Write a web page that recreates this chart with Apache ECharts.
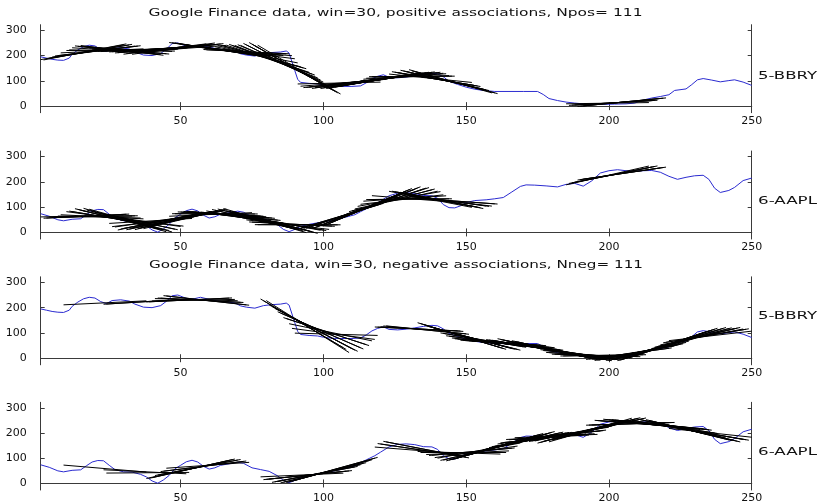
<!DOCTYPE html>
<html>
<head>
<meta charset="utf-8">
<script src="https://cdn.jsdelivr.net/npm/echarts@6/dist/echarts.min.js"></script>
<style>
  html, body { margin: 0; padding: 0; background: #fff; }
  #chart { width: 822px; height: 504px; }
</style>
</head>
<body>
<div id="chart"></div>
<script>
// tick positions
var xTicks = [50, 100, 150, 200, 250];
var yTicks = [0, 100, 200, 300];

// 5-BBRY closing prices
var bbryX = [1, 3, 5, 7, 9, 11, 12, 14, 16, 18, 20, 22, 24, 26, 29, 32, 34, 37, 40, 43, 45, 47, 49, 51, 53, 55, 57, 60, 63, 66, 69, 71, 73, 76, 79, 82, 85, 87, 88, 89, 90, 91, 92, 95, 98, 100, 103, 106, 110, 113, 115, 117, 119, 121, 123, 126, 129, 132, 135, 138, 140, 142, 144, 147, 150, 153, 156, 160, 165, 170, 175, 177, 179, 182, 185, 188, 191, 194, 198, 202, 206, 209, 212, 215, 218, 221, 223, 227, 229, 231, 233, 236, 239, 242, 244, 247, 250];
var bbryY = [195, 190, 185, 182, 181, 190, 205, 222, 235, 241, 238, 224, 216, 228, 231, 226, 214, 202, 200, 208, 225, 247, 250, 241, 233, 236, 241, 233, 226, 222, 219, 207, 202, 198, 208, 212, 214, 218, 210, 175, 140, 106, 94, 90, 88, 83, 79, 78, 78, 80, 92, 108, 118, 124, 114, 112, 115, 120, 126, 130, 128, 116, 98, 86, 75, 67, 62, 58, 58, 58, 58, 46, 30, 22, 16, 12, 9, 6, 7, 8, 9, 12, 24, 32, 38, 45, 62, 68, 85, 104, 109, 103, 96, 101, 104, 95, 82];

// 6-AAPL closing prices
var aaplX = [1, 4, 7, 9, 12, 15, 17, 19, 21, 23, 25, 27, 30, 33, 36, 38, 40, 42, 44, 46, 48, 50, 52, 54, 56, 58, 60, 62, 64, 67, 70, 72, 75, 78, 81, 84, 86, 88, 90, 92, 95, 99, 103, 107, 111, 113, 116, 118, 120, 123, 126, 129, 132, 135, 138, 140, 142, 144, 146, 148, 150, 153, 157, 160, 163, 166, 169, 171, 174, 178, 182, 185, 188, 191, 194, 197, 200, 203, 206, 209, 212, 215, 218, 221, 224, 227, 230, 233, 235, 237, 239, 242, 244, 247, 250];
var aaplY = [74, 64, 50, 46, 52, 54, 70, 85, 91, 90, 72, 55, 46, 45, 36, 26, 10, 1, 14, 32, 58, 72, 86, 92, 85, 68, 57, 62, 72, 78, 84, 80, 62, 55, 48, 30, 12, 3, 12, 24, 32, 40, 48, 58, 70, 82, 99, 110, 124, 145, 155, 157, 154, 146, 145, 135, 110, 98, 97, 105, 118, 126, 129, 133, 138, 160, 182, 188, 187, 184, 180, 190, 194, 183, 204, 235, 244, 248, 244, 242, 244, 245, 238, 222, 210, 218, 224, 226, 210, 175, 158, 166, 178, 205, 215];

// window starts (win=30) of positive / negative associations
var win = 30;
var posRanges = [[1, 8], [10, 22], [25, 37], [46, 77], [91, 117], [123, 132], [185, 191]];
var negRanges = [[9, 9], [23, 24], [38, 45], [78, 90], [118, 122], [133, 184], [192, 221]];

var titleTexts = ['Google Finance data, win=30, positive associations, Npos= 111',
                  'Google Finance data, win=30, negative associations, Nneg= 111'];
var seriesNames = ['5-BBRY', '6-AAPL', '5-BBRY', '6-AAPL'];

var AXIS_COLOR = '#3a3a3a';
var BLUE = '#2b2bd0';
var FONT = '"DejaVu Sans", sans-serif';

var gridTops = [24.7, 151, 276.8, 402.3];
var nameY = [76, 201, 316, 451.7];

// least squares line for each window
function fitSegments(xs, ys, ranges) {
	var segs = [];
	for (var r = 0; r < ranges.length; r++) {
		for (var s = ranges[r][0]; s <= ranges[r][1]; s++) {
			var n = 0, sx = 0, sy = 0, sxx = 0, sxy = 0;
			for (var k = 0; k < xs.length; k++) {
				if (xs[k] >= s && xs[k] <= s + win - 1) {
					n++; sx += xs[k]; sy += ys[k];
					sxx += xs[k] * xs[k]; sxy += xs[k] * ys[k];
				}
			}
			if (n < 2) continue;
			var b = (n * sxy - sx * sy) / (n * sxx - sx * sx);
			var a = (sy - b * sx) / n;
			var e = s + win - 1;
			segs.push({coords: [[s, a + b * s], [e, a + b * e]]});
		}
	}
	return segs;
}

function zip(xs, ys) {
	var out = [];
	for (var i = 0; i < xs.length; i++) out.push([xs[i], ys[i]]);
	return out;
}

function textW(t, font) {
	var c = document.createElement('canvas').getContext('2d');
	c.font = font;
	return c.measureText(t).width;
}

var panels = [
	{xs: bbryX, ys: bbryY, ranges: posRanges},
	{xs: aaplX, ys: aaplY, ranges: posRanges},
	{xs: bbryX, ys: bbryY, ranges: negRanges},
	{xs: aaplX, ys: aaplY, ranges: negRanges}
];

var grids = [], xAxes = [], yAxes = [], series = [];
for (var i = 0; i < 4; i++) {
	grids.push({left: 40.7, right: 70.3, top: gridTops[i], height: 88});
	xAxes.push({
		gridIndex: i, type: 'value', min: 1, max: 250, position: 'bottom',
		axisLine: {lineStyle: {color: AXIS_COLOR, width: 1}},
		axisTick: {inside: true, length: 4, customValues: xTicks, lineStyle: {color: AXIS_COLOR}},
		axisLabel: {customValues: xTicks, color: '#111', fontSize: 11, fontFamily: FONT, margin: 3},
		splitLine: {show: false}
	});
	xAxes.push({
		gridIndex: i, type: 'value', min: 1, max: 250, position: 'top',
		axisLine: {lineStyle: {color: AXIS_COLOR, width: 1}},
		axisTick: {inside: true, length: 4, customValues: xTicks, lineStyle: {color: AXIS_COLOR}},
		axisLabel: {show: false},
		splitLine: {show: false}
	});
	yAxes.push({
		gridIndex: i, type: 'value', min: -26, max: 322, position: 'left',
		axisLine: {show: true, lineStyle: {color: AXIS_COLOR, width: 1}},
		axisTick: {show: true, inside: true, length: 4, customValues: yTicks, lineStyle: {color: AXIS_COLOR}},
		axisLabel: {customValues: yTicks, color: '#111', fontSize: 11, fontFamily: FONT, margin: 14},
		splitLine: {show: false}
	});
	yAxes.push({
		gridIndex: i, type: 'value', min: -26, max: 322, position: 'right',
		axisLine: {show: true, lineStyle: {color: AXIS_COLOR, width: 1}},
		axisTick: {show: true, inside: true, length: 4, customValues: yTicks, lineStyle: {color: AXIS_COLOR}},
		axisLabel: {show: false},
		splitLine: {show: false}
	});
	var p = panels[i];
	series.push({
		type: 'line', xAxisIndex: 2 * i, yAxisIndex: 2 * i,
		data: zip(p.xs, p.ys), showSymbol: false, symbol: 'none', silent: true,
		lineStyle: {color: BLUE, width: 1}, z: 2
	});
	series.push({
		type: 'lines', coordinateSystem: 'cartesian2d', xAxisIndex: 2 * i, yAxisIndex: 2 * i,
		data: fitSegments(p.xs, p.ys, p.ranges), silent: true,
		lineStyle: {color: '#000', width: 1, opacity: 1}, z: 3
	});
}

// titles and right side labels, stretched like the original
var titleFont = '11px ' + FONT;
var graphics = [];
var titlePos = [[395.5, 13.5], [396, 265.5]];
for (var t = 0; t < 2; t++) {
	graphics.push({
		type: 'text', x: titlePos[t][0], y: titlePos[t][1],
		scaleX: 494 / textW(titleTexts[t], titleFont),
		style: {text: titleTexts[t], font: titleFont, fill: '#111',
			align: 'center', textAlign: 'center', verticalAlign: 'middle', textVerticalAlign: 'middle'}
	});
}
for (var j = 0; j < 4; j++) {
	graphics.push({
		type: 'text', x: 758, y: nameY[j],
		scaleX: 59 / textW(seriesNames[j], titleFont),
		style: {text: seriesNames[j], font: titleFont, fill: '#111',
			align: 'left', textAlign: 'left', verticalAlign: 'middle', textVerticalAlign: 'middle'}
	});
}

var myChart = echarts.init(document.getElementById('chart'));
myChart.setOption({
	animation: false,
	backgroundColor: '#fff',
	grid: grids,
	xAxis: xAxes,
	yAxis: yAxes,
	series: series,
	graphic: graphics
});
</script>
</body>
</html>
